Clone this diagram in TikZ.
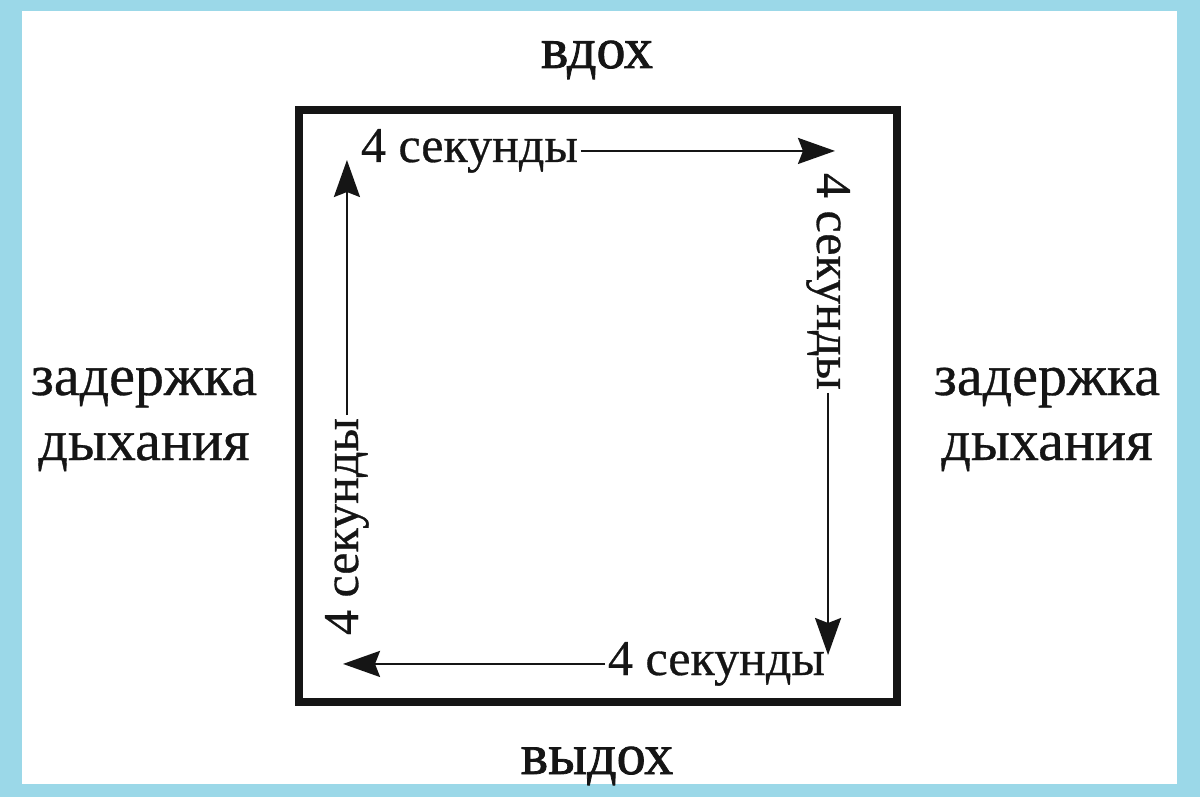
\documentclass[tikz,border=0pt]{standalone}
\usepackage{fontspec}
\setmainfont[FakeBold=0.6]{Liberation Serif}
\newfontfamily\heavyfont[FakeBold=1.3]{Liberation Serif}
\usetikzlibrary{arrows.meta}
\definecolor{frameblue}{HTML}{9BD8E8}
\definecolor{ink}{HTML}{151515}
\tikzset{
  lbl/.style={inner sep=0pt, outer sep=0pt, text=ink, font=\fontsize{58}{65}\selectfont, align=center},
  hdr/.style={inner sep=0pt, outer sep=0pt, text=ink, font=\heavyfont\fontsize{58}{65}\selectfont},
  sec/.style={inner sep=0pt, outer sep=3pt, text=ink, font=\fontsize{50}{60}\selectfont},
  arr/.style={draw=ink, line width=2.5pt, -{Stealth[length=37pt,width=26pt,inset=5pt]}},
}
\begin{document}
\begin{tikzpicture}[x=1pt,y=-1pt]
\useasboundingbox (0,0) rectangle (1200,797);
\fill[frameblue] (0,0) rectangle (1200,797);
\fill[white] (22,11) rectangle (1177,784);
% square
\draw[ink, line width=8pt] (299,110) rectangle (897,702);
% outer labels
\node[hdr, anchor=base] (inhale) at (597,68) {вдох};
\node[hdr, anchor=base] (exhale) at (597,774) {выдох};
\node[lbl, anchor=base] (holdL1) at (144,395) {задержка};
\node[lbl, anchor=base] (holdL2) at (144,460) {дыхания};
\node[lbl, anchor=base] (holdR1) at (1047,395) {задержка};
\node[lbl, anchor=base] (holdR2) at (1047,460) {дыхания};
% tips
\coordinate (tipT) at (835,150);
\coordinate (tipR) at (832,655);
\coordinate (tipB) at (343,663);
\coordinate (tipL) at (350,160);
% seconds labels
\node[sec, anchor=base west] (secT) at (358,162) {4 секунды};
\node[sec, anchor=base west, rotate=-90] (secR) at (817,170) {4 секунды};
\node[sec, anchor=base west] (secB) at (605,675) {4 секунды};
\node[sec, anchor=base west, rotate=90] (secL) at (358,638) {4 секунды};
% arrows
\draw[arr] (secT.east) -- (secT.east -| tipT);
\draw[arr] (secR.east) -- (secR.east |- tipR);
\draw[arr] (secB.west) -- (secB.west -| tipB);
\draw[arr] (secL.east) -- (secL.east |- tipL);
\end{tikzpicture}
\end{document}
